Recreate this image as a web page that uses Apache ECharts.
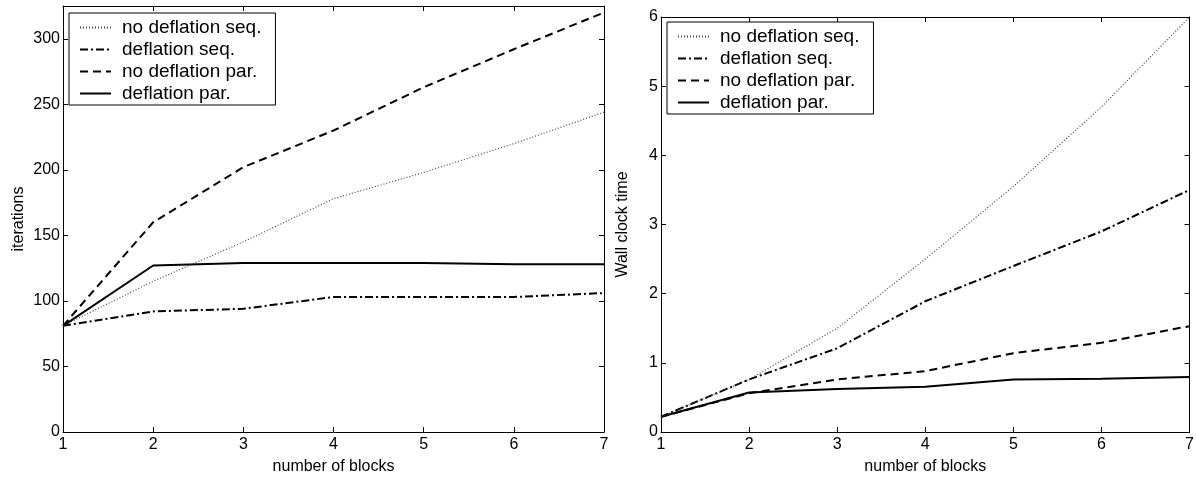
<!DOCTYPE html>
<html>
<head>
<meta charset="utf-8">
<script src="https://cdn.jsdelivr.net/npm/echarts@6/dist/echarts.min.js"></script>
<style>
html, body { margin: 0; padding: 0; background: #fff; }
#main { width: 1197px; height: 480px; }
</style>
</head>
<body>
<div id="main"></div>
<script>
var blocks = [1, 2, 3, 4, 5, 6, 7];
var names = ['no deflation seq.', 'deflation seq.', 'no deflation par.', 'deflation par.'];

// left plot: iterations
var iterNoDeflSeq = [81, 115, 145, 178, 198, 220, 244];
var iterDeflSeq = [81, 92, 94, 103, 103, 103, 106];
var iterNoDeflPar = [81, 160, 202, 230, 263, 292, 320];
var iterDeflPar = [81, 127, 129, 129, 129, 128, 128];

// right plot: wall clock time
var timeNoDeflSeq = [0.22, 0.76, 1.5, 2.5, 3.55, 4.7, 6.0];
var timeDeflSeq = [0.22, 0.76, 1.21, 1.89, 2.4, 2.9, 3.5];
var timeNoDeflPar = [0.22, 0.56, 0.76, 0.88, 1.14, 1.29, 1.53];
var timeDeflPar = [0.22, 0.57, 0.62, 0.655, 0.76, 0.77, 0.795];

var FONT = 'Liberation Sans';

var chartDom = document.getElementById('main');
var myChart = echarts.init(chartDom);

var lineStyles = [
  { color: '#444', width: 1.2, type: [1, 2] },
  { color: '#000', width: 2, type: [8, 3, 2, 3] },
  { color: '#000', width: 2, type: [8, 5] },
  { color: '#000', width: 2, type: 'solid' }
];

function pairs(ys) {
  return blocks.map(function (x, i) { return [x, ys[i]]; });
}

function makeSeries(list, axisIdx) {
  return list.map(function (ys, i) {
    return {
      name: names[i],
      type: 'line',
      xAxisIndex: axisIdx,
      yAxisIndex: axisIdx,
      symbol: 'none',
      lineStyle: lineStyles[i],
      itemStyle: { color: lineStyles[i].color },
      data: pairs(ys),
      z: 10 - i
    };
  });
}

function xAx(grid, bottom) {
  return {
    type: 'value',
    gridIndex: grid,
    position: bottom ? 'bottom' : 'top',
    min: 1,
    max: 7,
    interval: 1,
    name: bottom ? 'number of blocks' : '',
    nameLocation: 'middle',
    nameGap: 27,
    nameTextStyle: { fontFamily: FONT, fontSize: 16, color: '#000' },
    axisLine: { show: true, onZero: false, lineStyle: { color: '#000', width: 1 } },
    axisTick: { show: true, inside: true, length: 5, lineStyle: { color: '#000' } },
    axisLabel: { show: bottom, fontFamily: FONT, fontSize: 16, color: '#000', margin: 5 },
    splitLine: { show: false }
  };
}

function yAx(grid, left, max, interval, name, gap, showMax) {
  return {
    type: 'value',
    gridIndex: grid,
    position: left ? 'left' : 'right',
    min: 0,
    max: max,
    interval: interval,
    name: left ? name : '',
    nameLocation: 'middle',
    nameGap: gap,
    nameTextStyle: { fontFamily: FONT, fontSize: 16, color: '#000' },
    axisLine: { show: true, onZero: false, lineStyle: { color: '#000', width: 1 } },
    axisTick: { show: true, inside: true, length: 5, lineStyle: { color: '#000' } },
    axisLabel: { show: left, fontFamily: FONT, fontSize: 16, color: '#000', margin: 3, showMaxLabel: showMax },
    splitLine: { show: false }
  };
}

function legendAt(left, top) {
  return {
    data: names,
    orient: 'vertical',
    left: left,
    top: top,
    backgroundColor: '#fff',
    borderColor: '#000',
    borderWidth: 1,
    borderRadius: 0,
    padding: [5, 14, 2, 10],
    itemWidth: 31,
    itemHeight: 14,
    itemGap: 3,
    selectedMode: false,
    itemStyle: { opacity: 0 },
    textStyle: { fontFamily: FONT, fontSize: 19, color: '#000', padding: [0, 0, 0, 6] }
  };
}

var option = {
  animation: false,
  backgroundColor: '#fff',
  grid: [
    { left: 63, right: 593, top: 6, bottom: 46 },
    { left: 661, right: 7, top: 17, bottom: 46 }
  ],
  legend: [legendAt(69, 13), legendAt(667, 22)],
  xAxis: [xAx(0, true), xAx(0, false), xAx(1, true), xAx(1, false)],
  yAxis: [
    yAx(0, true, 325, 50, 'iterations', 36, false),
    yAx(0, false, 325, 50, '', 0, false),
    yAx(1, true, 6, 1, 'Wall clock time', 30, true),
    yAx(1, false, 6, 1, '', 0, true)
  ],
  series: makeSeries([iterNoDeflSeq, iterDeflSeq, iterNoDeflPar, iterDeflPar], 0)
    .concat(makeSeries([timeNoDeflSeq, timeDeflSeq, timeNoDeflPar, timeDeflPar], 2))
};

option && myChart.setOption(option);
</script>
</body>
</html>
